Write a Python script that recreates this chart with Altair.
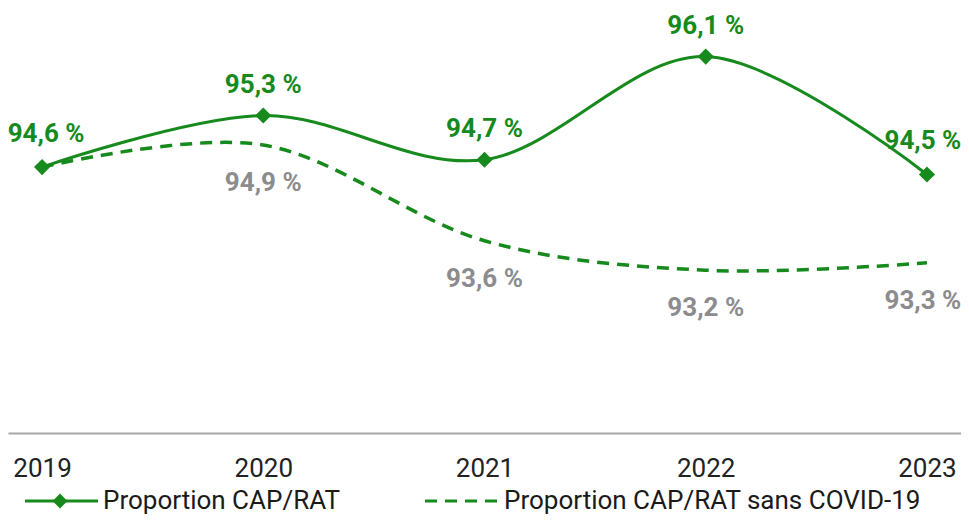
import altair as alt
import pandas as pd

years = ["2019", "2020", "2021", "2022", "2023"]
cap_rat = [94.6, 95.3, 94.7, 96.1, 94.5]
sans_covid = [94.6, 94.9, 93.6, 93.2, 93.3]
series_names = ["Proportion CAP/RAT", "Proportion CAP/RAT sans COVID-19"]

GREEN = "#168a1c"
GREY = "#8c8c8e"
FONT = "Roboto"


def fmt(v):
    return f"{v:.1f}".replace(".", ",") + " %"


df = pd.DataFrame({
    "year": years,
    "cap": cap_rat,
    "sans": sans_covid,
    "cap_label": [fmt(v) for v in cap_rat],
    "sans_label": [fmt(v) for v in sans_covid],
})
df_sans_labels = df[df["year"] != "2019"]
legend_df = pd.DataFrame({"name": series_names})

x = alt.X("year:O", scale=alt.Scale(type="point", padding=0.154),
          axis=alt.Axis(title=None, labelAngle=0, ticks=False, grid=False,
                        domainColor="#a8a8a8", domainWidth=2,
                        labelFont=FONT, labelFontSize=26, labelColor="#222222",
                        labelPadding=22))
yscale = alt.Scale(domain=[90.99, 96.76], nice=False, zero=False)
ycap = alt.Y("cap:Q", scale=yscale, axis=None)
ysans = alt.Y("sans:Q", scale=yscale, axis=None)

base = alt.Chart(df)

solid = base.mark_line(color=GREEN, strokeWidth=3, interpolate="cardinal").encode(x=x, y=ycap)
dashed = base.mark_line(color=GREEN, strokeWidth=3.5, strokeDash=[12, 8],
                        interpolate="cardinal").encode(x=x, y=ysans)
points = base.mark_point(shape="diamond", filled=True, size=260, color=GREEN,
                         opacity=1).encode(x=x, y=ycap)

label_style = dict(font=FONT, fontSize=26, fontWeight="bold", baseline="middle")
cap_text_first = base.transform_filter(alt.datum.year == years[0]).mark_text(
    color=GREEN, dy=-33, dx=4, **label_style).encode(x=x, y=ycap, text="cap_label:N")
cap_text_mid = base.transform_filter(
    (alt.datum.year != years[0]) & (alt.datum.year != years[-1])).mark_text(
    color=GREEN, dy=-31, **label_style).encode(x=x, y=ycap, text="cap_label:N")
cap_text_last = base.transform_filter(alt.datum.year == years[-1]).mark_text(
    color=GREEN, dy=-33, dx=-4, **label_style).encode(x=x, y=ycap, text="cap_label:N")
sans_text_mid = alt.Chart(df_sans_labels).transform_filter(alt.datum.year != years[-1]).mark_text(
    color=GREY, dy=38, **label_style).encode(x=x, y=ysans, text="sans_label:N")
sans_text_last = alt.Chart(df_sans_labels).transform_filter(alt.datum.year == years[-1]).mark_text(
    color=GREY, dy=38, dx=-4, **label_style).encode(x=x, y=ysans, text="sans_label:N")

# legend
LEG_Y = 493
leg1 = alt.Chart(legend_df).transform_filter(alt.datum.name == series_names[0])
leg2 = alt.Chart(legend_df).transform_filter(alt.datum.name == series_names[1])
leg1_line = leg1.mark_rule(color=GREEN, strokeWidth=3).encode(
    x=alt.value(17), x2=alt.value(90), y=alt.value(LEG_Y))
leg1_pt = leg1.mark_point(shape="diamond", filled=True, size=220, color=GREEN, opacity=1).encode(
    x=alt.value(52), y=alt.value(LEG_Y))
leg1_txt = leg1.mark_text(align="left", baseline="middle", font=FONT, fontSize=26,
                          color="#1a1a1a").encode(
    x=alt.value(95), y=alt.value(LEG_Y), text="name:N")
leg2_line = leg2.mark_rule(color=GREEN, strokeWidth=3, strokeDash=[12, 8]).encode(
    x=alt.value(417), x2=alt.value(489), y=alt.value(LEG_Y))
leg2_txt = leg2.mark_text(align="left", baseline="middle", font=FONT, fontSize=26,
                          color="#1a1a1a").encode(
    x=alt.value(496), y=alt.value(LEG_Y), text="name:N")

chart = alt.layer(solid, dashed, points, cap_text_first, cap_text_mid, cap_text_last,
                  sans_text_mid, sans_text_last,
                  leg1_line, leg1_pt, leg1_txt, leg2_line, leg2_txt).properties(
    width=953, height=425,
    autosize=alt.AutoSizeParams(type="none"),
    padding={"left": 0, "top": 0, "right": 0, "bottom": 84},
).configure_view(stroke=None)

chart.save("out.html", embed_options={"renderer": "svg", "actions": False})
